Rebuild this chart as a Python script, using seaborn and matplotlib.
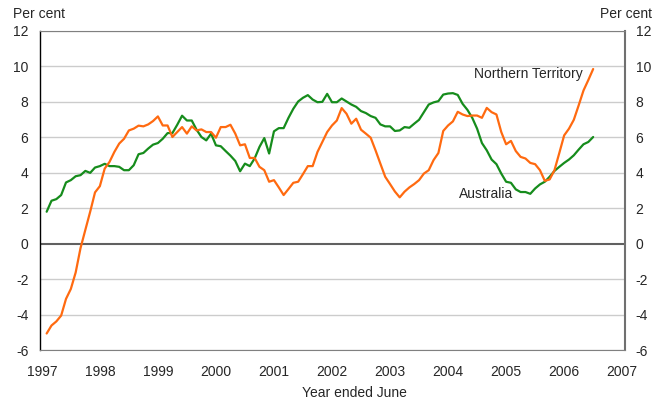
# Inflation chart: Australia vs Northern Territory, year-ended, per cent
import numpy as np
import pandas as pd
import matplotlib
matplotlib.use('Agg')
import matplotlib.pyplot as plt
import seaborn as sns

# ДАННЫЕ (по месяцам, с февраля 1997)
months = np.arange(1, 115)
years = 1997 + months / 12

australia = [
    1.79, 2.41, 2.50, 2.73, 3.44, 3.57, 3.79, 3.85, 4.09, 3.98,
    4.28, 4.36, 4.49, 4.36, 4.36, 4.32, 4.13, 4.13, 4.41, 5.03,
    5.10, 5.35, 5.57, 5.66, 5.90, 6.22, 6.22, 6.69, 7.20, 6.93,
    6.93, 6.41, 6.00, 5.81, 6.19, 5.53, 5.48, 5.21, 4.95, 4.65,
    4.07, 4.50, 4.36, 4.79, 5.44, 5.94, 5.07, 6.32, 6.50, 6.50,
    7.08, 7.59, 8.00, 8.21, 8.36, 8.11, 7.96, 7.98, 8.43, 7.96,
    7.96, 8.17, 8.00, 7.83, 7.70, 7.46, 7.35, 7.18, 7.08, 6.71,
    6.60, 6.60, 6.34, 6.37, 6.56, 6.52, 6.75, 6.97, 7.40, 7.83,
    7.95, 8.02, 8.39, 8.45, 8.47, 8.37, 7.87, 7.53, 7.08, 6.47,
    5.66, 5.25, 4.73, 4.47, 3.94, 3.48, 3.42, 3.05, 2.90, 2.90,
    2.80, 3.10, 3.33, 3.48, 3.76, 4.09, 4.32, 4.54, 4.73, 4.97,
    5.29, 5.59, 5.72, 6.00,
]

northern_territory = [
    -5.07, -4.62, -4.39, -4.06, -3.12, -2.56, -1.63, -0.26, 0.77, 1.79,
    2.88, 3.23, 4.22, 4.60, 5.16, 5.63, 5.90, 6.37, 6.47, 6.64,
    6.60, 6.71, 6.90, 7.16, 6.65, 6.65, 6.00, 6.28, 6.56, 6.19,
    6.60, 6.37, 6.43, 6.28, 6.28, 5.96, 6.56, 6.56, 6.69, 6.19,
    5.53, 5.59, 4.82, 4.82, 4.32, 4.13, 3.48, 3.57, 3.16, 2.73,
    3.07, 3.42, 3.48, 3.91, 4.36, 4.36, 5.16, 5.72, 6.28, 6.65,
    6.93, 7.63, 7.31, 6.75, 7.03, 6.41, 6.19, 5.96, 5.25, 4.50,
    3.76, 3.35, 2.93, 2.60, 2.92, 3.16, 3.35, 3.57, 3.94, 4.13,
    4.70, 5.10, 6.34, 6.65, 6.88, 7.42, 7.27, 7.18, 7.21, 7.21,
    7.08, 7.64, 7.40, 7.27, 6.28, 5.59, 5.78, 5.21, 4.88, 4.79,
    4.54, 4.47, 4.13, 3.53, 3.61, 4.13, 5.10, 6.09, 6.47, 6.97,
    7.78, 8.62, 9.21, 9.83,
]

year_ticks = list(range(1997, 2008))
y_ticks = list(range(-6, 13, 2))

df = pd.DataFrame({
    'year': np.concatenate([years, years]),
    'value': australia + northern_territory,
    'region': ['Australia'] * len(years) + ['Northern Territory'] * len(years),
})

# ГРАФИК
sns.set_style('white')
plt.rcParams['font.family'] = ['Liberation Sans', 'DejaVu Sans']
plt.rcParams['axes.unicode_minus'] = False

fig = plt.figure(figsize=(6.65, 4.03), dpi=100)
ax = fig.add_axes([0.0594, 0.1315, 0.8797, 0.7928])

for y in y_ticks:
    if y == 0:
        ax.axhline(0, color='#606060', lw=1.5, zorder=1)
    else:
        ax.axhline(y, color='#cccccc', lw=1.0, zorder=1)

sns.lineplot(data=df, x='year', y='value', hue='region',
             palette={'Australia': '#168c1c', 'Northern Territory': '#ff6a10'},
             lw=1.6, legend=False, ax=ax, zorder=3)

ax.set_xlim(1996.96, 2007.04)
ax.set_ylim(-6, 12)
ax.set_xticks(year_ticks)
ax.set_yticks(y_ticks)
ax.tick_params(axis='both', length=0, labelsize=10)
ax.tick_params(axis='y', pad=8, labelright=True)
ax.tick_params(axis='x', pad=11)

ax.spines['left'].set_color('black')
ax.spines['left'].set_linewidth(1.0)
ax.spines['top'].set_color('#808080')
ax.spines['bottom'].set_color('#808080')
ax.spines['right'].set_color('#707070')
ax.spines['right'].set_linewidth(1.5)

ax.set_xlabel('Year ended June', fontsize=10)
ax.xaxis.set_label_coords(0.539, -0.112)
ax.set_ylabel('')

fig.text(13 / 665, 1 - 14 / 403, 'Per cent', fontsize=10, ha='left', va='center')
fig.text(652 / 665, 1 - 14 / 403, 'Per cent', fontsize=10, ha='right', va='center')

ax.text(2006.32, 9.55, 'Northern Territory', fontsize=10, ha='right', va='center')
ax.text(2004.18, 2.77, 'Australia', fontsize=10, ha='left', va='center')

plt.savefig('out.png', dpi=100)
